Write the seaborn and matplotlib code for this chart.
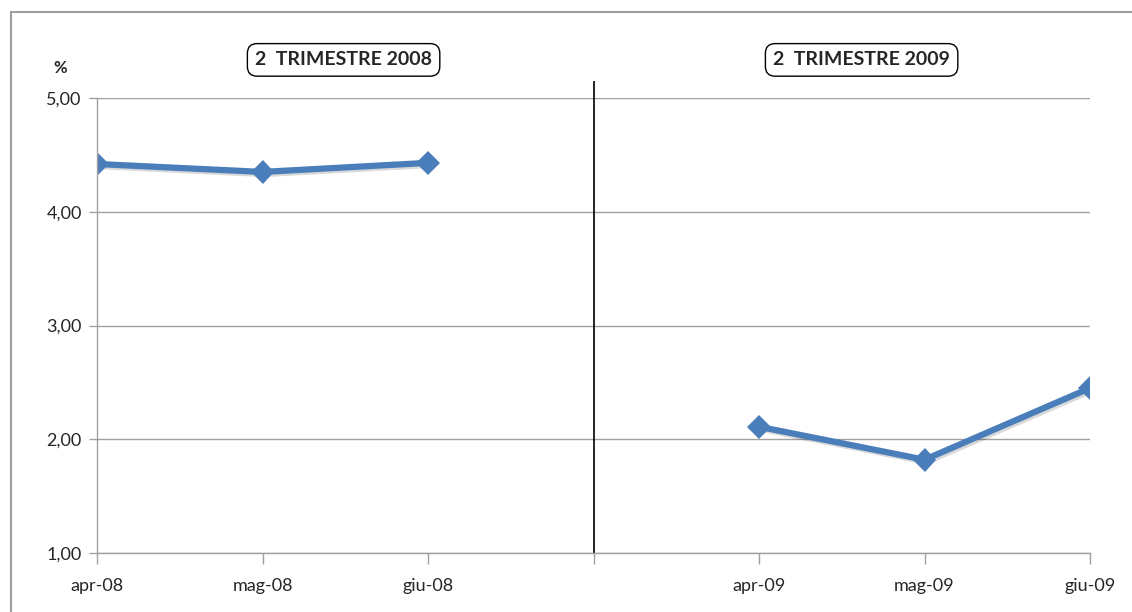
import pandas as pd
import numpy as np
import seaborn as sns
import matplotlib.pyplot as plt
import matplotlib.patheffects as pe
from matplotlib.patches import Rectangle

# data
mesi = ['apr-08', 'mag-08', 'giu-08', '', 'apr-09', 'mag-09', 'giu-09']
mesi_2008 = ['apr-08', 'mag-08', 'giu-08']
valori_2008 = [4.42, 4.35, 4.43]
mesi_2009 = ['apr-09', 'mag-09', 'giu-09']
valori_2009 = [2.11, 1.82, 2.45]
titoli = ['2  TRIMESTRE 2008', '2  TRIMESTRE 2009']
y_ticks = [1, 2, 3, 4, 5]

df = pd.DataFrame({
    'mese': mesi_2008 + mesi_2009,
    'valore': valori_2008 + valori_2009,
    'periodo': ['2008'] * 3 + ['2009'] * 3,
})
df['pos'] = [mesi.index(m) for m in df['mese']]

sns.set_style('white')
plt.rcParams['font.family'] = ['Lato', 'DejaVu Sans']

blue = '#4a7ebb'
grey = '#a0a0a0'

fig = plt.figure(figsize=(11.32, 6.12), dpi=100)
ax = fig.add_axes([97 / 1132, 1 - 553 / 612, (1090 - 97) / 1132, (553 - 98) / 612])

sns.lineplot(data=df, x='pos', y='valore', hue='periodo', palette=[blue, blue],
             marker='D', markersize=12, markeredgewidth=0, linewidth=4.5,
             legend=False, ax=ax,
             path_effects=[pe.SimpleLineShadow(offset=(1.5, -1.5), alpha=0.15), pe.Normal()])

ax.set_xlim(0, len(mesi) - 1)
ax.set_ylim(1, 5)
ax.set_xticks(range(len(mesi)))
ax.set_xticklabels(mesi, fontsize=13)
ax.set_yticks(y_ticks)
ax.set_yticklabels([f'{v:.2f}'.replace('.', ',') for v in y_ticks], fontsize=13)
ax.set_xlabel('')
ax.set_ylabel('')

ax.grid(axis='y', color=grey, linewidth=1)
ax.set_axisbelow(True)
for s in ['top', 'right']:
    ax.spines[s].set_visible(False)
for s in ['left', 'bottom']:
    ax.spines[s].set_color(grey)
    ax.spines[s].set_linewidth(1)
ax.tick_params(axis='x', direction='out', length=8, width=1, color=grey, pad=10)
ax.tick_params(axis='y', direction='out', length=6, width=1, color=grey, pad=5)
ax.tick_params(bottom=True, left=True)

# divider between the two quarters
ax.vlines(mesi.index(''), 1, 5.15, color='black', linewidth=1.2, clip_on=False)

# quarter titles in rounded boxes
for titolo, centro in zip(titoli, [1.49, 4.62]):
    ax.text(centro, 5.335, titolo, ha='center', va='center', fontsize=14,
            fontweight='bold', clip_on=False,
            bbox=dict(boxstyle='round,pad=0.4,rounding_size=0.5',
                      facecolor='white', edgecolor='black', linewidth=1))

fig.text(60 / 1132, 1 - 68 / 612, '%', ha='center', va='center',
         fontsize=12, fontweight='bold')

# outer frame
fig.patches.append(Rectangle((11 / 1132, -0.1), 1.2, 1 - 12 / 612 + 0.1,
                             fill=False, edgecolor=grey, linewidth=1.5,
                             transform=fig.transFigure, figure=fig))

fig.savefig('out.png', dpi=100)
